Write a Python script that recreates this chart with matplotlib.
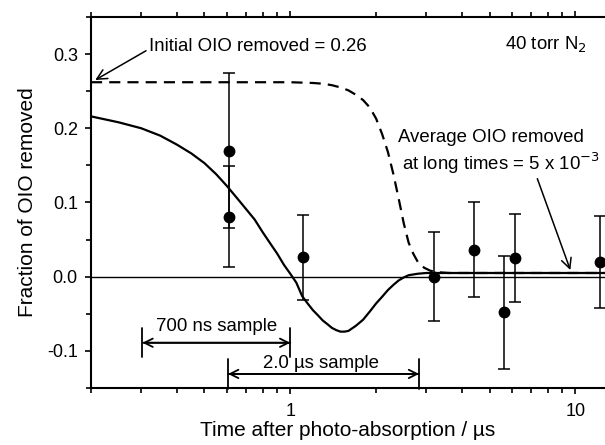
import numpy as np
import matplotlib.pyplot as plt
from matplotlib.ticker import FixedLocator, NullFormatter, FixedFormatter

plt.rcParams['font.family'] = ['Liberation Sans', 'DejaVu Sans']

# measured points (time in us, fraction removed, error)
t_pts = [0.61, 0.61, 1.11, 3.18, 4.41, 5.62, 6.12, 12.2]
f_pts = [0.170, 0.081, 0.026, 0.000, 0.036, -0.048, 0.025, 0.020]
f_err = [0.104, 0.068, 0.057, 0.060, 0.064, 0.076, 0.059, 0.062]

# model curve (solid)
t_fit = [0.2, 0.25, 0.3, 0.35, 0.4, 0.45, 0.5, 0.55, 0.6, 0.65, 0.7, 0.75, 0.8, 0.85, 0.9, 0.95,
         1.0, 1.05, 1.1, 1.15, 1.2, 1.25, 1.3, 1.35, 1.4, 1.45, 1.5, 1.55, 1.6, 1.7, 1.8, 1.9,
         2.0, 2.1, 2.2, 2.3, 2.4, 2.5, 2.6, 2.8, 3.0, 3.5, 5.0, 8.0, 13.0]
f_fit = [0.216, 0.208, 0.200, 0.190, 0.178, 0.166, 0.153, 0.138, 0.122, 0.106, 0.091, 0.077, 0.060, 0.045, 0.031, 0.016,
         0.004, -0.008, -0.026, -0.036, -0.045, -0.052, -0.059, -0.064, -0.069, -0.072, -0.074, -0.074, -0.073, -0.066, -0.058, -0.047,
         -0.036, -0.027, -0.018, -0.011, -0.005, -0.001, 0.002, 0.004, 0.005, 0.005, 0.005, 0.005, 0.005]

# initial OIO removed (dashed)
t_init = [0.2, 0.5, 1.0, 1.2, 1.3, 1.4, 1.5, 1.6, 1.7, 1.8, 1.9, 2.0, 2.1, 2.2, 2.3, 2.4, 2.5, 2.6, 2.7,
          2.8, 2.95, 3.1, 3.3, 3.6, 4.0, 6.0, 13.0]
f_init = [0.262, 0.262, 0.262, 0.261, 0.260, 0.258, 0.255, 0.251, 0.245, 0.238, 0.228, 0.213, 0.192, 0.168, 0.138, 0.105, 0.072, 0.046, 0.031,
          0.020, 0.012, 0.008, 0.006, 0.005, 0.005, 0.005, 0.005]

x_ticks_major = [1, 10]
x_ticks_minor = [0.2, 0.3, 0.4, 0.5, 0.6, 0.7, 0.8, 0.9, 2, 3, 4, 5, 6, 7, 8, 9]
y_ticks_major = [-0.1, 0.0, 0.1, 0.2, 0.3]
y_ticks_minor = [-0.15, -0.05, 0.05, 0.15, 0.25, 0.35]

fig = plt.figure(figsize=(6.05, 4.45), dpi=100)
ax = fig.add_axes([0.1504, 0.128, 0.8496, 0.834])

ax.axhline(0, color='black', lw=1.0)
ax.plot(t_init, f_init, color='black', lw=1.6, ls=(0, (5, 3.2)))
ax.plot(t_fit, f_fit, color='black', lw=1.6)
ax.errorbar(t_pts, f_pts, yerr=f_err, fmt='o', color='black', ms=7.5, elinewidth=1.1,
            capsize=4.5, capthick=1.1)

ax.set_xscale('log')
ax.set_xlim(0.2, 12.7)
ax.set_ylim(-0.15, 0.35)

ax.xaxis.set_major_locator(FixedLocator(x_ticks_major))
ax.xaxis.set_major_formatter(FixedFormatter(['1', '10']))
ax.xaxis.set_minor_locator(FixedLocator(x_ticks_minor))
ax.xaxis.set_minor_formatter(NullFormatter())
ax.yaxis.set_major_locator(FixedLocator(y_ticks_major))
ax.yaxis.set_major_formatter(FixedFormatter(['-0.1', '0.0', '0.1', '0.2', '0.3']))
ax.yaxis.set_minor_locator(FixedLocator(y_ticks_minor))

for s in ['left', 'top', 'bottom']:
    ax.spines[s].set_linewidth(1.5)
ax.spines['right'].set_visible(False)
ax.tick_params(which='both', direction='out', top=True, right=False, labelsize=13, width=1.2)
ax.tick_params(which='major', length=4.5)
ax.tick_params(which='minor', length=3.5)
ax.tick_params(axis='x', which='major', pad=6)
ax.tick_params(axis='y', which='major', pad=5)

ax.set_xlabel('Time after photo-absorption / µs', fontsize=15, labelpad=1)
ax.set_ylabel('Fraction of OIO removed', fontsize=15, labelpad=7)

txt = 13.4
arrow = dict(arrowstyle='->', lw=1.1, color='black', mutation_scale=18, shrinkA=0, shrinkB=0)
ax.annotate('Initial OIO removed = 0.26', xy=(0.207, 0.265), xytext=(0.319, 0.310),
            fontsize=txt, va='center', ha='left', arrowprops=dict(arrow, relpos=(0, 0.35)))
ax.text(5.65, 0.313, '40 torr N$_2$', fontsize=txt, va='center', ha='left')
ax.text(2.39, 0.187, 'Average OIO removed', fontsize=txt, va='center', ha='left')
ax.annotate('at long times = 5 x 10$^{-3}$', xy=(9.6, 0.009), xytext=(2.46, 0.153),
            fontsize=txt, va='center', ha='left',
            arrowprops=dict(arrow, relpos=(0.68, 0.0)))

# sample windows
heads = dict(arrowstyle='<->', lw=1.3, color='black', mutation_scale=15, shrinkA=0, shrinkB=0)
bars = dict(arrowstyle='|-|, widthA=0.7, widthB=0.7', lw=1.3, color='black',
            mutation_scale=15, shrinkA=0, shrinkB=0)
win_700 = (0.303, 1.0, -0.089)
win_2us = (0.605, 2.83, -0.131)
for x0, x1, yy in [win_700, win_2us]:
    ax.annotate('', xy=(x0, yy), xytext=(x1, yy), arrowprops=heads)
    ax.annotate('', xy=(x0, yy), xytext=(x1, yy), arrowprops=bars)
ax.text(0.551, -0.067, '700 ns sample', fontsize=txt, ha='center', va='center')
ax.text(1.28, -0.117, '2.0 µs sample', fontsize=txt, ha='center', va='center')

fig.savefig('out.png', dpi=100)
